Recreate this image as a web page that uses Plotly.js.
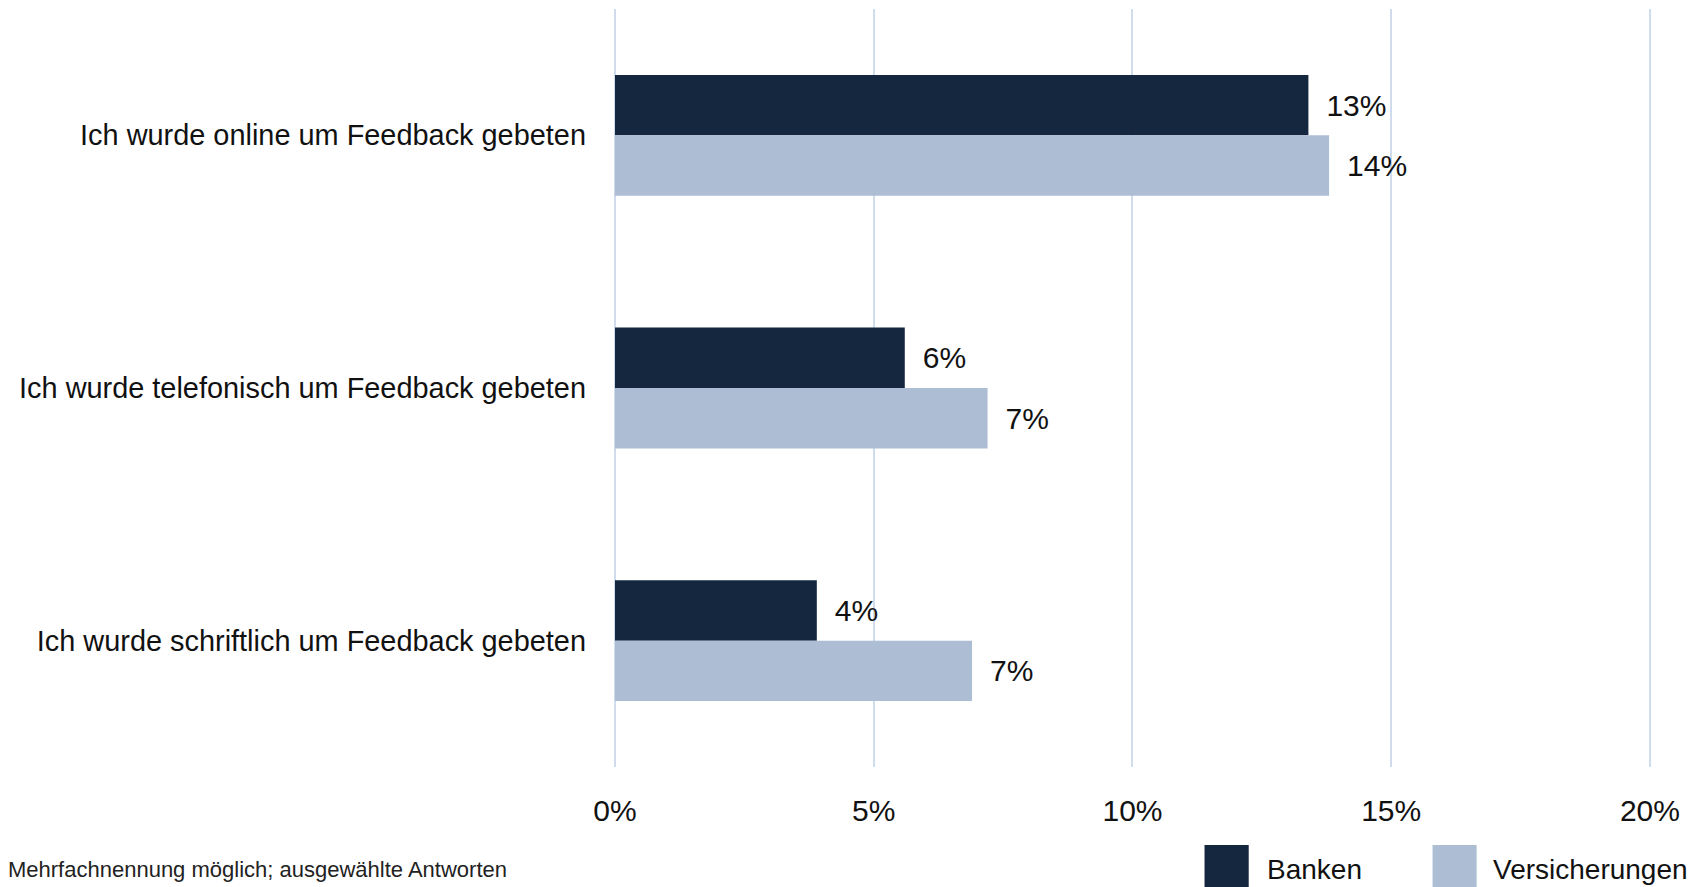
<!DOCTYPE html>
<html>
<head>
<meta charset="utf-8">
<script src="https://cdn.plot.ly/plotly-3.0.1.min.js"></script>
<style>html,body{margin:0;padding:0;background:#fff;}#chart{width:1693px;height:887px;}</style>
</head>
<body>
<div id="chart"></div>
<script>
const categories = [
  "Ich wurde online um Feedback gebeten",
  "Ich wurde telefonisch um Feedback gebeten",
  "Ich wurde schriftlich um Feedback gebeten"
];
const seriesNames = ["Banken", "Versicherungen"];
const banken = [13.4, 5.6, 3.9];
const versicherungen = [13.8, 7.2, 6.9];
const xTickVals = [0, 5, 10, 15, 20];
const xTickText = ["0%", "5%", "10%", "15%", "20%"];
const colors = ["#15263f", "#adbdd4"];
const footnote = "Mehrfachnennung möglich; ausgewählte Antworten";

const FONT = "Liberation Sans, Arial, sans-serif";
const lbl = v => "\u2002" + Math.round(v) + "%";

const traces = [banken, versicherungen].map((vals, i) => ({
  type: "bar",
  orientation: "h",
  name: seriesNames[i],
  x: vals,
  y: categories,
  marker: { color: colors[i] },
  text: vals.map(lbl),
  textposition: "outside",
  cliponaxis: false,
  textfont: { family: FONT, size: 30, color: "#111" },
  hoverinfo: "skip"
}));

// legend drawn as shapes + annotations (large swatches as in reference)
const legendX = [[0.5685, 0.6111], [0.7884, 0.8309]];
const legendTextX = [0.6265, 0.8448];
const shapes = seriesNames.map((n, i) => ({
  type: "rect", xref: "paper", yref: "paper",
  x0: legendX[i][0], x1: legendX[i][1], y0: -0.1029, y1: -0.17,
  fillcolor: colors[i], line: { width: 0 }
}));
const annotations = seriesNames.map((n, i) => ({
  text: n, xref: "paper", yref: "paper", x: legendTextX[i], y: -0.1346,
  xanchor: "left", yanchor: "middle", showarrow: false,
  font: { family: FONT, size: 28, color: "#111" }
}));
annotations.push({
  text: footnote, xref: "paper", yref: "paper", x: -0.5875, y: -0.1346,
  xanchor: "left", yanchor: "middle", showarrow: false,
  font: { family: FONT, size: 22, color: "#222" }
});

const layout = {
  width: 1693, height: 887,
  margin: { l: 615, r: 41, t: 9, b: 120 },
  paper_bgcolor: "#fff", plot_bgcolor: "#fff",
  barmode: "group", bargap: 0.522, bargroupgap: 0,
  showlegend: false,
  font: { family: FONT, color: "#111" },
  xaxis: {
    range: [0, 20.04], tickvals: xTickVals, ticktext: xTickText,
    showgrid: true, gridcolor: "#d0dcec", gridwidth: 2,
    zeroline: true, zerolinecolor: "#d0dcec", zerolinewidth: 2,
    showline: false, ticks: "", ticklabelstandoff: 23,
    tickfont: { family: FONT, size: 30, color: "#111" },
    fixedrange: true
  },
  yaxis: {
    autorange: "reversed", showgrid: false, zeroline: false, showline: false,
    ticks: "", ticklabelstandoff: 28,
    tickfont: { family: FONT, size: 28.9, color: "#111" },
    fixedrange: true
  },
  shapes: shapes,
  annotations: annotations
};

Plotly.newPlot("chart", traces, layout, { displayModeBar: false, staticPlot: true });
</script>
</body>
</html>
